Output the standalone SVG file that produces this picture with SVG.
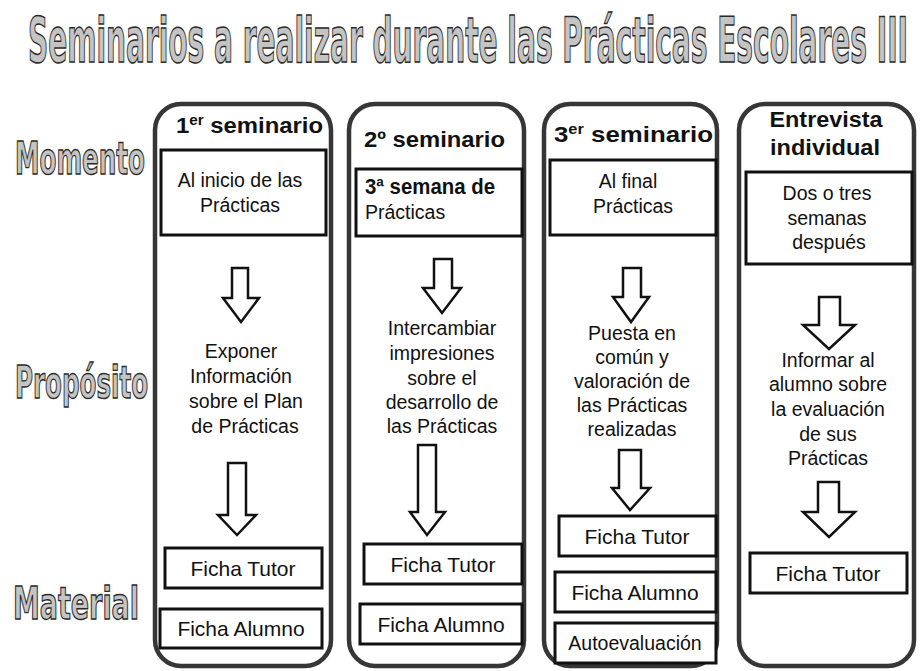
<svg xmlns="http://www.w3.org/2000/svg" width="920" height="671" viewBox="0 0 920 671">
<style>
.bg{fill:#ffffff}
.title{font-family:"Liberation Sans Narrow","DejaVu Sans Condensed","Liberation Sans",sans-serif;font-weight:bold;fill:#c4c4c4;stroke:#2a2a2a;stroke-width:1.5}
.side{font-family:"Liberation Sans Narrow","DejaVu Sans Condensed","Liberation Sans",sans-serif;font-weight:bold;font-size:45px;fill:#c4c4c4;stroke:#2a2a2a;stroke-width:1.4}
.col{fill:#ffffff;stroke:#363636;stroke-width:4.5}
.box{fill:#ffffff;stroke:#111111;stroke-width:3}
.hd{font-family:"Liberation Sans",Arial,sans-serif;font-weight:bold;font-size:22px;fill:#111111}
.t{font-family:"Liberation Sans",Arial,sans-serif;font-size:19.5px;fill:#111111;text-anchor:middle}
.f{font-family:"Liberation Sans",Arial,sans-serif;font-size:21px;fill:#111111;text-anchor:middle}
.arrow{fill:#ffffff;stroke:#111111;stroke-width:2.5;stroke-linejoin:miter}
</style>
<rect class="bg" x="0" y="0" width="920" height="671"/>
<text class="title" x="28" y="62" font-size="62" textLength="880" lengthAdjust="spacingAndGlyphs">Seminarios a realizar durante las Prácticas Escolares III</text>

<g id="labels">
<text class="side" x="15" y="174" textLength="130" lengthAdjust="spacingAndGlyphs">Momento</text>
<text class="side" x="15" y="398" textLength="133" lengthAdjust="spacingAndGlyphs">Propósito</text>
<text class="side" x="13" y="619" textLength="126" lengthAdjust="spacingAndGlyphs">Material</text>
</g>

<g id="col1">
<rect class="col" x="155" y="104" width="176" height="562" rx="26"/>
<text class="hd" x="176" y="133" textLength="147" lengthAdjust="spacingAndGlyphs">1<tspan font-size="14" dy="-8">er</tspan><tspan dy="8"> seminario</tspan></text>
<rect class="box" x="161" y="150" width="165" height="85"/>
<text class="t" x="240" y="187">Al inicio de las</text>
<text class="t" x="240" y="212">Prácticas</text>
<text class="t" x="241" y="358">Exponer</text>
<text class="t" x="241" y="383">Información</text>
<text class="t" x="246" y="408">sobre el Plan</text>
<text class="t" x="245" y="433">de Prácticas</text>
<rect class="box" x="165" y="548" width="157" height="40"/>
<text class="f" x="243" y="576">Ficha Tutor</text>
<rect class="box" x="160" y="609" width="162" height="39"/>
<text class="f" x="241" y="636">Ficha Alumno</text>
</g>

<g id="col2">
<rect class="col" x="349" y="104" width="175" height="562" rx="26"/>
<text class="hd" x="364" y="147" textLength="141" lengthAdjust="spacingAndGlyphs">2º seminario</text>
<rect class="box" x="356" y="169" width="166" height="67"/>
<text class="hd" x="365" y="194" font-size="19.5" textLength="130" lengthAdjust="spacingAndGlyphs">3ª semana de</text>
<text class="t" x="365" y="219" style="text-anchor:start">Prácticas</text>
<text class="t" x="442" y="335">Intercambiar</text>
<text class="t" x="442" y="360">impresiones</text>
<text class="t" x="442" y="385">sobre el</text>
<text class="t" x="442" y="409">desarrollo de</text>
<text class="t" x="442" y="433">las Prácticas</text>
<rect class="box" x="364" y="544" width="158" height="40"/>
<text class="f" x="443" y="572">Ficha Tutor</text>
<rect class="box" x="360" y="604" width="162" height="40"/>
<text class="f" x="441" y="632">Ficha Alumno</text>
</g>

<g id="col3">
<rect class="col" x="544" y="104" width="173" height="562" rx="26"/>
<text class="hd" x="554" y="142" textLength="159" lengthAdjust="spacingAndGlyphs">3<tspan font-size="14" dy="-8">er</tspan><tspan dy="8"> seminario</tspan></text>
<rect class="box" x="550" y="160" width="166" height="75"/>
<text class="t" x="628" y="188">Al final</text>
<text class="t" x="633" y="213">Prácticas</text>
<text class="t" x="632" y="340">Puesta en</text>
<text class="t" x="632" y="364">común y</text>
<text class="t" x="632" y="388">valoración de</text>
<text class="t" x="632" y="412">las Prácticas</text>
<text class="t" x="632" y="436">realizadas</text>
<rect class="box" x="559" y="516" width="157" height="40"/>
<text class="f" x="637" y="544">Ficha Tutor</text>
<rect class="box" x="555" y="572" width="161" height="40"/>
<text class="f" x="635" y="600">Ficha Alumno</text>
<rect class="box" x="555" y="623" width="161" height="40"/>
<text class="t" x="635" y="650">Autoevaluación</text>
</g>

<g id="col4">
<rect class="col" x="739" y="104" width="175" height="562" rx="26"/>
<text class="hd" x="826" y="127" text-anchor="middle" textLength="113" lengthAdjust="spacingAndGlyphs">Entrevista</text>
<text class="hd" x="825" y="155" text-anchor="middle" textLength="110" lengthAdjust="spacingAndGlyphs">individual</text>
<rect class="box" x="746" y="172" width="166" height="92"/>
<text class="t" x="827" y="200">Dos o tres</text>
<text class="t" x="827" y="225">semanas</text>
<text class="t" x="829" y="249">después</text>
<text class="t" x="828" y="367">Informar al</text>
<text class="t" x="828" y="391">alumno sobre</text>
<text class="t" x="828" y="416">la evaluación</text>
<text class="t" x="828" y="441">de sus</text>
<text class="t" x="828" y="465">Prácticas</text>
<rect class="box" x="750" y="553" width="157" height="40"/>
<text class="f" x="828" y="581">Ficha Tutor</text>
</g>

<g id="connectors">
<path class="arrow" d="M232,268 H248 V298 H259 L241,322 L223,298 H232 Z"/>
<path class="arrow" d="M228,463 H246 V515 H256 L237,535 L218,515 H228 Z"/>
<path class="arrow" d="M434,259 H452 V288 H461 L442,313 L423,288 H434 Z"/>
<path class="arrow" d="M418,445 H436 V512 H445 L427,535 L410,512 H418 Z"/>
<path class="arrow" d="M623,268 H641 V297 H649 L631,322 L613,297 H623 Z"/>
<path class="arrow" d="M619,450 H641 V488 H650 L630,510 L612,488 H619 Z"/>
<path class="arrow" d="M819,297 H840 V325 H855 L829,349 L803,325 H819 Z"/>
<path class="arrow" d="M818,482 H839 V512 H855 L829,537 L803,512 H818 Z"/>
</g>
</svg>
